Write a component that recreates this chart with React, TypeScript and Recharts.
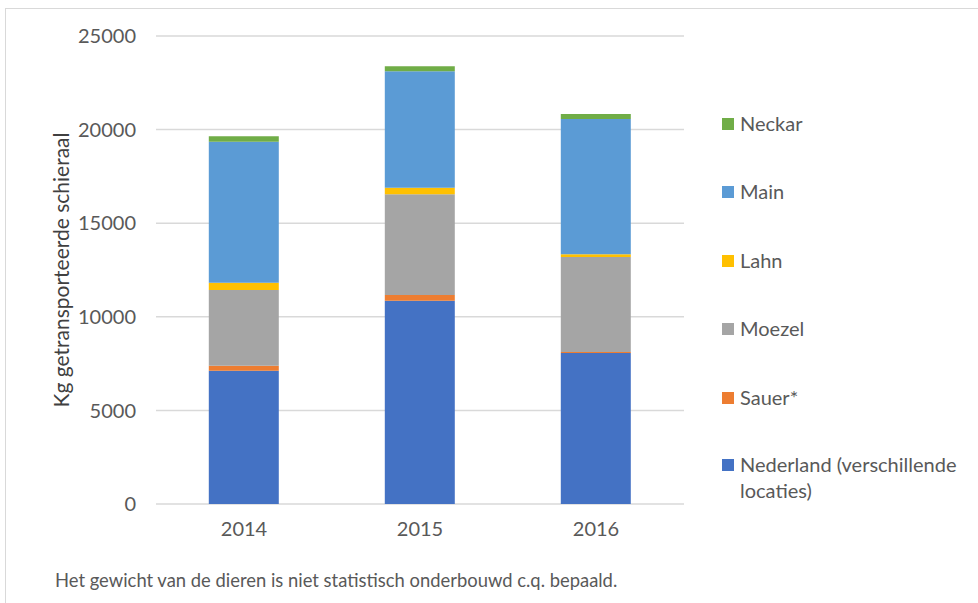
import React from 'react';
import { BarChart, Bar, XAxis, YAxis, CartesianGrid } from 'recharts';

const years = ['2014', '2015', '2016'];
const nederland = [7120, 10860, 8060];
const sauer = [270, 300, 60];
const moezel = [4040, 5390, 5070];
const lahn = [390, 340, 150];
const main = [7530, 6230, 7230];
const neckar = [300, 270, 270];
const yTicks = [0, 5000, 10000, 15000, 20000, 25000];

const series = [
  { key: 'Nederland', label: 'Nederland (verschillende locaties)', values: nederland, color: '#4472C4' },
  { key: 'Sauer', label: 'Sauer*', values: sauer, color: '#ED7D31' },
  { key: 'Moezel', label: 'Moezel', values: moezel, color: '#A5A5A5' },
  { key: 'Lahn', label: 'Lahn', values: lahn, color: '#FFC000' },
  { key: 'Main', label: 'Main', values: main, color: '#5B9BD5' },
  { key: 'Neckar', label: 'Neckar', values: neckar, color: '#70AD47' },
];

const data = years.map((year, i) => {
  const row: Record<string, string | number> = { year };
  series.forEach(s => {
    row[s.key] = s.values[i];
  });
  return row;
});

const font = 'Lato, "Open Sans", sans-serif';
const textColor = '#595959';

const legendTops = [110, 178, 247, 315, 384, 451];

export default function App() {
  const legendItems = [...series].reverse();
  return (
    <div style={{ position: 'fixed', left: 0, top: 0, width: 978, height: 603, overflow: 'hidden', background: '#fff', fontFamily: font }}>
      <div style={{ position: 'absolute', left: 5, top: 8, width: 1000, height: 700, border: '1px solid #d9d9d9' }} />
      <div style={{ position: 'absolute', left: 0, top: 0 }}>
        <BarChart
          width={978}
          height={603}
          data={data}
          margin={{ top: 36, right: 294, bottom: 59, left: 52 }}
          barCategoryGap="30%"
        >
          <CartesianGrid vertical={false} stroke="#d9d9d9" strokeWidth={1.5} />
          <XAxis
            dataKey="year"
            axisLine={false}
            tickLine={false}
            height={40}
            tickMargin={12}
            tick={{ fill: textColor, fontSize: 20, fontFamily: font }}
          />
          <YAxis
            width={104}
            domain={[0, 25000]}
            ticks={yTicks}
            axisLine={false}
            tickLine={false}
            tickMargin={14}
            tick={{ fill: textColor, fontSize: 20, fontFamily: font }}
            label={{
              value: 'Kg getransporteerde schieraal',
              angle: -90,
              position: 'insideLeft',
              offset: 10,
              textAnchor: 'middle',
              style: { textAnchor: 'middle', fill: '#404040', fontSize: 21, fontFamily: font },
            }}
          />
          {series.map(s => (
            <Bar key={s.key} dataKey={s.key} stackId="a" fill={s.color} isAnimationActive={false} />
          ))}
        </BarChart>
      </div>
      {legendItems.map((s, i) => (
        <div
          key={s.key}
          style={{
            position: 'absolute',
            left: 722,
            top: legendTops[i],
            width: 250,
            display: 'flex',
            alignItems: 'flex-start',
            fontSize: 20,
            lineHeight: '26px',
            color: textColor,
          }}
        >
          <div style={{ width: 12, height: 12, background: s.color, marginTop: 8, marginRight: 6, flexShrink: 0 }} />
          <div style={{ width: 230 }}>{s.label}</div>
        </div>
      ))}
      <div style={{ position: 'absolute', left: 55, top: 569, fontSize: 18.4, lineHeight: '22px', color: textColor, whiteSpace: 'nowrap' }}>
        Het gewicht van de dieren is niet statistisch onderbouwd c.q. bepaald.
      </div>
    </div>
  );
}
